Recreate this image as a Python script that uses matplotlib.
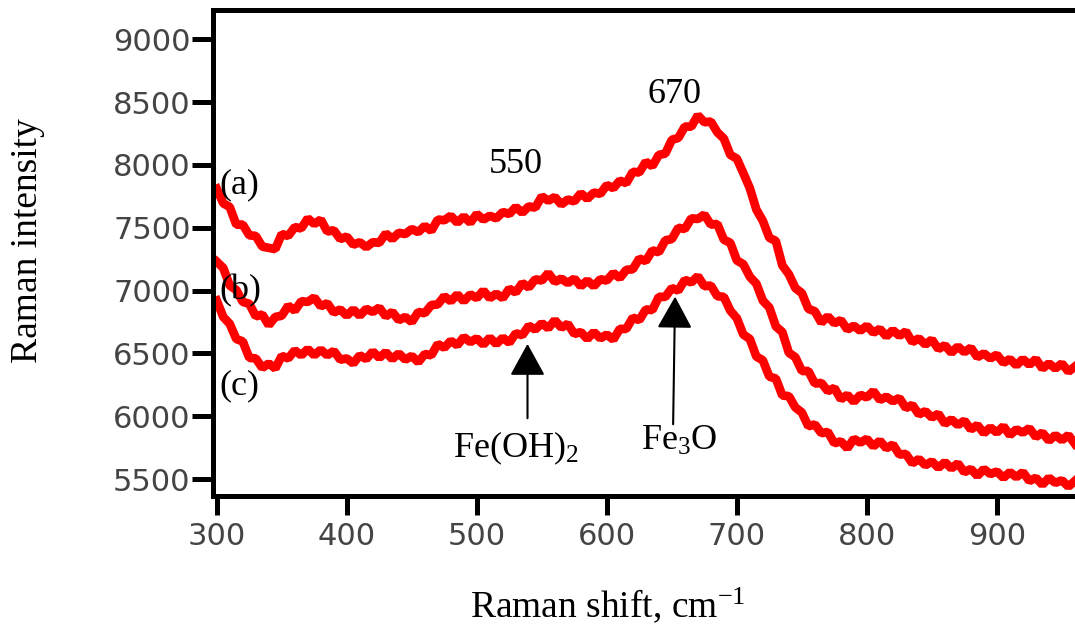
import matplotlib
matplotlib.use('Agg')
import matplotlib.pyplot as plt

# Raman shift axis (cm-1), one value every 5 cm-1
shift = list(range(300, 961, 5))

# spectrum (a) - top trace (noisy)
intensity_a = [
    7810, 7695, 7665, 7525, 7525, 7440, 7435, 7350, 7340, 7330,
    7450, 7435, 7505, 7495, 7575, 7530, 7565, 7470, 7480, 7410,
    7430, 7365, 7385, 7345, 7385, 7380, 7455, 7410, 7460, 7450,
    7490, 7465, 7515, 7475, 7565, 7560, 7595, 7540, 7590, 7540,
    7610, 7565, 7595, 7575, 7625, 7610, 7665, 7620, 7670, 7660,
    7750, 7715, 7745, 7685, 7725, 7710, 7775, 7730, 7780, 7770,
    7840, 7815, 7875, 7855, 7945, 7940, 8025, 7990, 8080, 8090,
    8200, 8215, 8305, 8305, 8395, 8340, 8345, 8260, 8210, 8080,
    8050, 7935, 7815, 7645, 7555, 7420, 7395, 7200, 7130, 7020,
    6980, 6855, 6835, 6745, 6795, 6740, 6765, 6690, 6720, 6680,
    6720, 6665, 6695, 6635, 6685, 6640, 6675, 6590, 6620, 6570,
    6610, 6535, 6565, 6505, 6555, 6510, 6545, 6470, 6500, 6460,
    6490, 6425, 6455, 6405, 6455, 6410, 6455, 6380, 6420, 6380,
    6420, 6355, 6395,
]

# spectrum (b) - middle trace
intensity_b = [
    7230, 7180, 7040, 7005, 6910, 6895, 6795, 6810, 6725, 6790,
    6800, 6880, 6840, 6915, 6910, 6945, 6875, 6900, 6825, 6850,
    6800, 6850, 6800, 6855, 6830, 6865, 6795, 6830, 6765, 6790,
    6750, 6830, 6820, 6885, 6890, 6955, 6915, 6970, 6915, 6970,
    6940, 7000, 6940, 6975, 6940, 7015, 6985, 7060, 7025, 7090,
    7080, 7140, 7070, 7095, 7060, 7095, 7035, 7080, 7035, 7090,
    7080, 7140, 7100, 7165, 7170, 7255, 7235, 7320, 7305, 7400,
    7410, 7500, 7490, 7575, 7570, 7605, 7525, 7530, 7405, 7380,
    7240, 7210, 7110, 7055, 6920, 6865, 6715, 6670, 6505, 6470,
    6360, 6360, 6260, 6265, 6200, 6225, 6135, 6170, 6115, 6170,
    6150, 6200, 6130, 6155, 6120, 6145, 6065, 6090, 6015, 6040,
    5990, 6020, 5940, 5975, 5930, 5965, 5895, 5930, 5865, 5910,
    5870, 5920, 5850, 5895, 5870, 5905, 5835, 5870, 5805, 5850,
    5810, 5850, 5780,
]

# spectrum (c) - bottom trace
intensity_c = [
    6920, 6790, 6735, 6615, 6595, 6465, 6460, 6385, 6420, 6380,
    6480, 6460, 6525, 6485, 6535, 6485, 6530, 6485, 6520, 6450,
    6460, 6420, 6485, 6455, 6515, 6465, 6510, 6455, 6500, 6450,
    6480, 6430, 6495, 6485, 6575, 6545, 6600, 6565, 6630, 6590,
    6620, 6570, 6625, 6575, 6625, 6585, 6660, 6645, 6720, 6690,
    6740, 6700, 6765, 6705, 6735, 6655, 6670, 6615, 6670, 6620,
    6650, 6610, 6695, 6695, 6785, 6765, 6850, 6845, 6950, 6950,
    7020, 7000, 7085, 7065, 7115, 7035, 7040, 6955, 6950, 6840,
    6780, 6650, 6615, 6475, 6445, 6315, 6300, 6165, 6160, 6070,
    6030, 5920, 5935, 5865, 5875, 5785, 5800, 5745, 5820, 5790,
    5820, 5760, 5805, 5745, 5775, 5695, 5700, 5625, 5660, 5610,
    5640, 5590, 5635, 5585, 5625, 5555, 5580, 5525, 5580, 5540,
    5560, 5510, 5555, 5515, 5555, 5485, 5510, 5455, 5510, 5470,
    5490, 5440, 5485,
]

x_ticks = [300, 400, 500, 600, 700, 800, 900]
y_ticks = [5500, 6000, 6500, 7000, 7500, 8000, 8500, 9000]

plt.rcParams['mathtext.fontset'] = 'custom'
plt.rcParams['mathtext.rm'] = 'Liberation Serif'
plt.rcParams['mathtext.it'] = 'Liberation Serif:italic'

serif = 'Liberation Serif'

fig = plt.figure(figsize=(10.75, 6.33), dpi=100)
ax = fig.add_axes([0.198, 0.2164, 0.8019, 0.7678])

for y in (intensity_a, intensity_b, intensity_c):
    ax.plot(shift, y, color='#ff0000', lw=6.3, solid_joinstyle='bevel')

ax.set_xlim(297, 960)
ax.set_ylim(5365, 9233)
ax.set_xticks(x_ticks)
ax.set_yticks(y_ticks)

ax.spines['right'].set_visible(False)
for s in ('left', 'top', 'bottom'):
    ax.spines[s].set_linewidth(3.6)
ax.tick_params(axis='both', direction='out', width=3.6, labelsize=22,
               labelcolor='#444444')
ax.tick_params(axis='y', length=15, pad=1)
ax.tick_params(axis='x', length=14, pad=5)

# axis titles
fig.text(0.026, 0.62, 'Raman intensity', rotation=90, ha='center',
         va='center', fontsize=27, family=serif)
fig.text(0.565, 0.044, 'Raman shift, cm$^{-1}$', ha='center', va='center',
         fontsize=27, family=serif)

# curve labels
ax.text(302, 7840, '(a)', fontsize=26, family=serif, va='center')
ax.text(302, 7000, '(b)', fontsize=26, family=serif, va='center')
ax.text(302, 6240, '(c)', fontsize=26, family=serif, va='center')

# peak positions
ax.text(530, 8000, '550', fontsize=26, family=serif, ha='center', va='center')
ax.text(652, 8560, '670', fontsize=26, family=serif, ha='center', va='center')

# phase arrows
arrow = dict(arrowstyle='-|>,head_length=1.0,head_width=0.55',
             mutation_scale=20, lw=1.5, color='black', shrinkA=0, shrinkB=0)
ax.annotate('', xy=(539, 6576), xytext=(539, 5984), arrowprops=arrow)
ax.annotate('', xy=(652.5, 6952), xytext=(651, 5936), arrowprops=arrow)
ax.text(530, 5744, 'Fe(OH)$_2$', fontsize=26, family=serif,
        ha='center', va='center')
ax.text(656, 5800, 'Fe$_3$O', fontsize=26, family=serif,
        ha='center', va='center')

fig.savefig('out.png', dpi=100)
